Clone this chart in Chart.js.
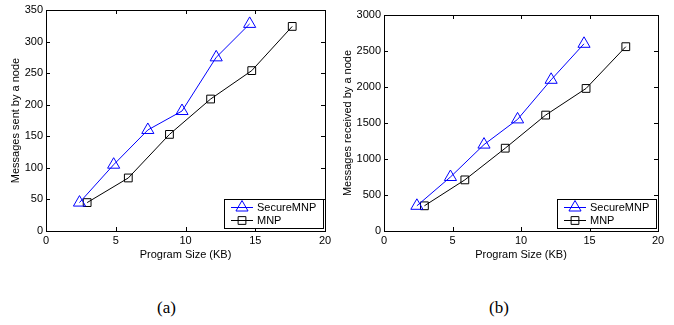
<!DOCTYPE html>
<html>
<head>
<meta charset="utf-8">
<script src="https://cdn.jsdelivr.net/npm/chart.js@4.4.1/dist/chart.umd.min.js"></script>
<style>
  body { margin: 0; background: #fff; width: 674px; height: 325px; position: relative; overflow: hidden; }
  canvas { position: absolute; top: 0; }
  #c1 { left: 0; }
  #c2 { left: 340px; }
  .cap { position: absolute; top: 298px; font-family: "Liberation Serif", "Times New Roman", serif; font-size: 17px; color: #000; }
</style>
</head>
<body>
<canvas id="c1" width="340" height="262"></canvas>
<canvas id="c2" width="334" height="262"></canvas>
<div class="cap" style="left:157px">(a)</div>
<div class="cap" style="left:489px">(b)</div>
<script>
const sizeSecure = [2.4, 4.85, 7.3, 9.75, 12.2, 14.6];
const sizeMnp = [2.95, 5.9, 8.85, 11.8, 14.75, 17.65];
const sentSecure = [45, 105, 160, 190, 275, 328];
const sentMnp = [45, 84, 153, 209, 254, 324];
const recvSecure = [350, 750, 1200, 1550, 2100, 2600];
const recvMnp = [350, 710, 1150, 1610, 1980, 2560];
const seriesNames = ["SecureMNP", "MNP"];
const xTitle = "Program Size (KB)";

const font = "Liberation Sans, Arial, Helvetica, sans-serif";

function toPoints(xs, ys) {
    return xs.map((x, i) => ({ x: x, y: ys[i] }));
}

// box + inward ticks on all four sides, like matlab
const boxTicks = {
    id: "boxTicks",
    afterDraw(chart) {
        const ctx = chart.ctx;
        const a = chart.chartArea;
        const xs = chart.scales.x;
        const ys = chart.scales.y;
        const len = 4;
        ctx.save();
        ctx.strokeStyle = "#000";
        ctx.lineWidth = 1;
        ctx.beginPath();
        xs.ticks.forEach(t => {
            const px = Math.round(xs.getPixelForValue(t.value)) + 0.5;
            ctx.moveTo(px, a.bottom); ctx.lineTo(px, a.bottom - len);
            ctx.moveTo(px, a.top); ctx.lineTo(px, a.top + len);
        });
        ys.ticks.forEach(t => {
            const py = Math.round(ys.getPixelForValue(t.value)) + 0.5;
            ctx.moveTo(a.left, py); ctx.lineTo(a.left + len, py);
            ctx.moveTo(a.right, py); ctx.lineTo(a.right - len, py);
        });
        ctx.stroke();
        ctx.strokeRect(Math.round(a.left) + 0.5, Math.round(a.top) + 0.5,
            Math.round(a.right - a.left), Math.round(a.bottom - a.top));
        ctx.restore();
    }
};

const boxLegend = {
    id: "boxLegend",
    afterDraw(chart) {
        const ctx = chart.ctx;
        const a = chart.chartArea;
        const w = 99, h = 29;
        const left = Math.round(a.right) - 2 - w;
        const top = Math.round(a.bottom) - 3 - h;
        ctx.save();
        ctx.fillStyle = "#fff";
        ctx.fillRect(left, top, w, h);
        ctx.strokeStyle = "#000";
        ctx.lineWidth = 1;
        ctx.strokeRect(left + 0.5, top + 0.5, w, h);
        ctx.font = "11px " + font;
        ctx.textBaseline = "middle";
        chart.data.datasets.forEach((ds, i) => {
            const y = top + 8 + i * 13;
            ctx.strokeStyle = ds.borderColor;
            ctx.beginPath();
            ctx.moveTo(left + 7, y + 0.5);
            ctx.lineTo(left + 29, y + 0.5);
            ctx.stroke();
            ctx.fillStyle = "rgba(0,0,0,0)";
            Chart.helpers.drawPoint(ctx, {
                pointStyle: ds.pointStyle,
                radius: ds.pointRadius,
                borderWidth: 1,
                rotation: 0
            }, left + 18, y + 0.5);
            ctx.fillStyle = "#000";
            ctx.fillText(ds.label, left + 33, y + 1);
        });
        ctx.restore();
    }
};

function makeChart(id, secure, mnp, yMax, yStep, yTitle, pad, yWidth, yTitlePad) {
    return new Chart(document.getElementById(id), {
        type: "line",
        data: {
            datasets: [
                {
                    label: seriesNames[0],
                    data: toPoints(sizeSecure, secure),
                    borderColor: "#0000ff",
                    backgroundColor: "transparent",
                    borderWidth: 1,
                    pointStyle: "triangle",
                    pointRadius: 7,
                    pointBorderWidth: 1,
                    pointBackgroundColor: "transparent",
                    tension: 0
                },
                {
                    label: seriesNames[1],
                    data: toPoints(sizeMnp, mnp),
                    borderColor: "#000000",
                    backgroundColor: "transparent",
                    borderWidth: 1,
                    pointStyle: "rect",
                    pointRadius: 5.5,
                    pointBorderWidth: 1,
                    pointBackgroundColor: "transparent",
                    tension: 0
                }
            ]
        },
        options: {
            responsive: false,
            animation: false,
            layout: { autoPadding: false, padding: pad },
            plugins: { legend: { display: false }, tooltip: { enabled: false } },
            scales: {
                x: {
                    type: "linear",
                    min: 0, max: 20,
                    ticks: { stepSize: 5, color: "#000", padding: 3, maxRotation: 0, font: { family: font, size: 11 } },
                    grid: { display: false, drawTicks: false },
                    border: { display: false },
                    title: { display: true, text: xTitle, color: "#000", padding: { top: 3, bottom: 0 }, font: { family: font, size: 11, lineHeight: 1.2 } },
                    afterFit(scale) { scale.height = 31; }
                },
                y: {
                    min: 0, max: yMax,
                    ticks: { stepSize: yStep, color: "#000", padding: 3, font: { family: font, size: 11 },
                        callback: v => String(v) },
                    grid: { display: false, drawTicks: false },
                    border: { display: false },
                    title: { display: true, text: yTitle, color: "#000", padding: { top: yTitlePad, bottom: 0 }, font: { family: font, size: 11, lineHeight: 1.2 } },
                    afterFit(scale) { scale.width = yWidth; }
                }
            }
        },
        plugins: [boxTicks, boxLegend]
    });
}

makeChart("c1", sentSecure, sentMnp, 350, 50, "Messages sent by a node",
    { top: 10, right: 15, bottom: 0, left: 0 }, 46, 9);
makeChart("c2", recvSecure, recvMnp, 3000, 500, "Messages received by a node",
    { top: 15, right: 16, bottom: 0, left: 0 }, 44, 1);
</script>
</body>
</html>
